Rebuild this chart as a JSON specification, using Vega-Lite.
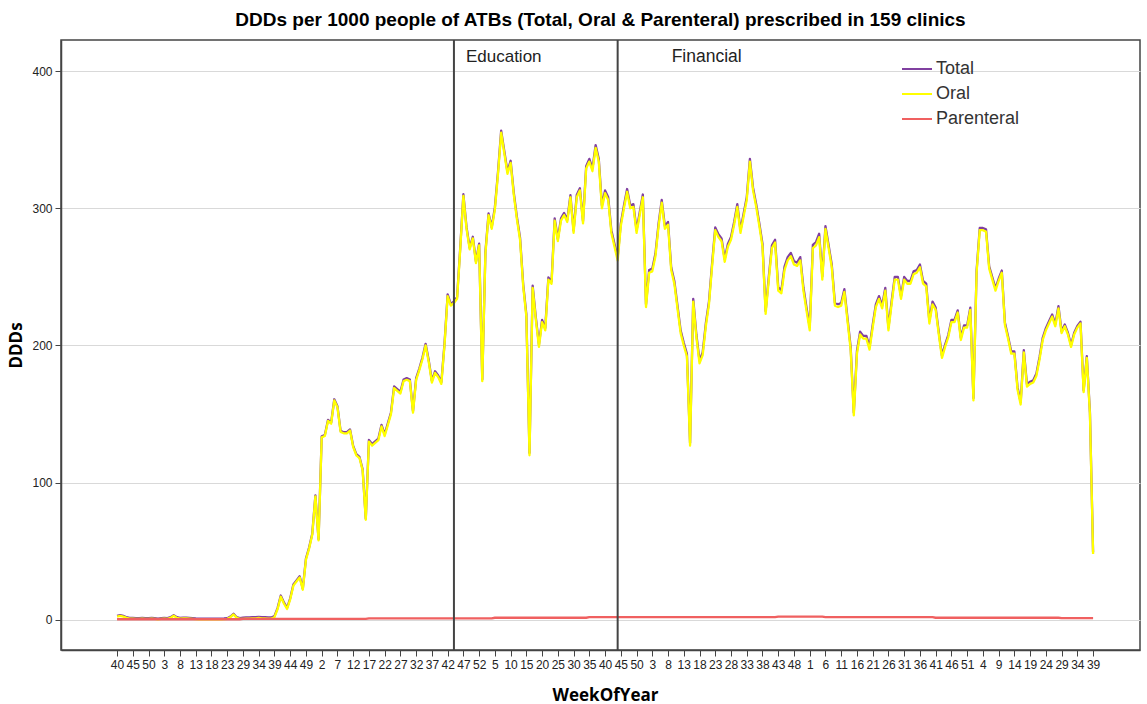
{
"$schema": "https://vega.github.io/schema/vega-lite/v6.json",
"width": 1079, "height": 610,
"autosize": {"type": "none"},
"padding": {"left": 61, "top": 40, "right": 7, "bottom": 54},
"background": "white",
"title": {"text": "DDDs per 1000 people of ATBs (Total, Oral & Parenteral) prescribed in 159 clinics", "font": "Liberation Sans", "fontSize": 19, "fontWeight": "bold", "color": "#000000", "anchor": "middle", "offset": 9},
"config": {
  "view": {"stroke": "#444444", "strokeWidth": 1.5},
  "axis": {"domainColor": "#444444", "domainWidth": 1.5, "tickColor": "#444444", "tickSize": 6, "labelFont": "Liberation Sans", "labelFontSize": 12, "labelColor": "#222222", "titleFont": "Open Sans", "titleFontSize": 17, "titleFontWeight": "bold", "titleColor": "#000000"}
},
"datasets": {"w": [
{"t":0,"Total":3,"Oral":2.5,"Parenteral":0.5},
{"t":1,"Total":3.5,"Oral":3,"Parenteral":0.5},
{"t":2,"Total":3,"Oral":2.5,"Parenteral":0.5},
{"t":3,"Total":2,"Oral":1.5,"Parenteral":0.5},
{"t":4,"Total":1.5,"Oral":1,"Parenteral":0.5},
{"t":5,"Total":1.5,"Oral":1,"Parenteral":0.5},
{"t":6,"Total":1.3,"Oral":0.8,"Parenteral":0.5},
{"t":7,"Total":1.3,"Oral":0.8,"Parenteral":0.5},
{"t":8,"Total":1.5,"Oral":1,"Parenteral":0.5},
{"t":9,"Total":1.3,"Oral":0.8,"Parenteral":0.5},
{"t":10,"Total":1.3,"Oral":0.8,"Parenteral":0.5},
{"t":11,"Total":1.5,"Oral":1,"Parenteral":0.5},
{"t":12,"Total":1.3,"Oral":0.8,"Parenteral":0.5},
{"t":13,"Total":1,"Oral":0.5,"Parenteral":0.5},
{"t":14,"Total":1.3,"Oral":0.8,"Parenteral":0.5},
{"t":15,"Total":1.5,"Oral":1,"Parenteral":0.5},
{"t":16,"Total":1.3,"Oral":0.8,"Parenteral":0.5},
{"t":17,"Total":2,"Oral":1.5,"Parenteral":0.5},
{"t":18,"Total":3.5,"Oral":3,"Parenteral":0.5},
{"t":19,"Total":2,"Oral":1.5,"Parenteral":0.5},
{"t":20,"Total":1.5,"Oral":1,"Parenteral":0.5},
{"t":21,"Total":1.7,"Oral":1.2,"Parenteral":0.5},
{"t":22,"Total":1.7,"Oral":1.2,"Parenteral":0.5},
{"t":23,"Total":1.5,"Oral":1,"Parenteral":0.5},
{"t":24,"Total":1.3,"Oral":0.8,"Parenteral":0.5},
{"t":25,"Total":1.1,"Oral":0.6,"Parenteral":0.5},
{"t":26,"Total":1,"Oral":0.5,"Parenteral":0.5},
{"t":27,"Total":1,"Oral":0.5,"Parenteral":0.5},
{"t":28,"Total":1,"Oral":0.5,"Parenteral":0.5},
{"t":29,"Total":1,"Oral":0.5,"Parenteral":0.5},
{"t":30,"Total":1,"Oral":0.5,"Parenteral":0.5},
{"t":31,"Total":1,"Oral":0.5,"Parenteral":0.5},
{"t":32,"Total":1,"Oral":0.5,"Parenteral":0.5},
{"t":33,"Total":1,"Oral":0.5,"Parenteral":0.5},
{"t":34,"Total":1.1,"Oral":0.6,"Parenteral":0.5},
{"t":35,"Total":1.3,"Oral":0.8,"Parenteral":0.5},
{"t":36,"Total":2.5,"Oral":2,"Parenteral":0.5},
{"t":37,"Total":4.5,"Oral":4,"Parenteral":0.5},
{"t":38,"Total":2,"Oral":1.5,"Parenteral":0.5},
{"t":39,"Total":1.3,"Oral":0.8,"Parenteral":0.5},
{"t":40,"Total":1.6,"Oral":0.8,"Parenteral":0.8},
{"t":41,"Total":1.8,"Oral":1,"Parenteral":0.8},
{"t":42,"Total":1.8,"Oral":1,"Parenteral":0.8},
{"t":43,"Total":2,"Oral":1.2,"Parenteral":0.8},
{"t":44,"Total":2,"Oral":1.2,"Parenteral":0.8},
{"t":45,"Total":2.3,"Oral":1.5,"Parenteral":0.8},
{"t":46,"Total":2,"Oral":1.2,"Parenteral":0.8},
{"t":47,"Total":2,"Oral":1.2,"Parenteral":0.8},
{"t":48,"Total":1.8,"Oral":1,"Parenteral":0.8},
{"t":49,"Total":1.8,"Oral":1,"Parenteral":0.8},
{"t":50,"Total":2.8,"Oral":2,"Parenteral":0.8},
{"t":51,"Total":8.8,"Oral":8,"Parenteral":0.8},
{"t":52,"Total":17.8,"Oral":17,"Parenteral":0.8},
{"t":53,"Total":12.8,"Oral":12,"Parenteral":0.8},
{"t":54,"Total":8.8,"Oral":8,"Parenteral":0.8},
{"t":55,"Total":15.8,"Oral":15,"Parenteral":0.8},
{"t":56,"Total":25.8,"Oral":25,"Parenteral":0.8},
{"t":57,"Total":28.8,"Oral":28,"Parenteral":0.8},
{"t":58,"Total":31.8,"Oral":31,"Parenteral":0.8},
{"t":59,"Total":22.8,"Oral":22,"Parenteral":0.8},
{"t":60,"Total":44.8,"Oral":44,"Parenteral":0.8},
{"t":61,"Total":52.8,"Oral":52,"Parenteral":0.8},
{"t":62,"Total":62.8,"Oral":62,"Parenteral":0.8},
{"t":63,"Total":90.8,"Oral":90,"Parenteral":0.8},
{"t":64,"Total":58.8,"Oral":58,"Parenteral":0.8},
{"t":65,"Total":133.8,"Oral":133,"Parenteral":0.8},
{"t":66,"Total":134.8,"Oral":134,"Parenteral":0.8},
{"t":67,"Total":145.8,"Oral":145,"Parenteral":0.8},
{"t":68,"Total":143.8,"Oral":143,"Parenteral":0.8},
{"t":69,"Total":160.8,"Oral":160,"Parenteral":0.8},
{"t":70,"Total":155.8,"Oral":155,"Parenteral":0.8},
{"t":71,"Total":137.8,"Oral":137,"Parenteral":0.8},
{"t":72,"Total":136.8,"Oral":136,"Parenteral":0.8},
{"t":73,"Total":136.8,"Oral":136,"Parenteral":0.8},
{"t":74,"Total":138.8,"Oral":138,"Parenteral":0.8},
{"t":75,"Total":126.8,"Oral":126,"Parenteral":0.8},
{"t":76,"Total":120.8,"Oral":120,"Parenteral":0.8},
{"t":77,"Total":118.8,"Oral":118,"Parenteral":0.8},
{"t":78,"Total":109.8,"Oral":109,"Parenteral":0.8},
{"t":79,"Total":73.8,"Oral":73,"Parenteral":0.8},
{"t":80,"Total":131.2,"Oral":130,"Parenteral":1.2},
{"t":81,"Total":128.2,"Oral":127,"Parenteral":1.2},
{"t":82,"Total":130.2,"Oral":129,"Parenteral":1.2},
{"t":83,"Total":132.2,"Oral":131,"Parenteral":1.2},
{"t":84,"Total":142.2,"Oral":141,"Parenteral":1.2},
{"t":85,"Total":135.2,"Oral":134,"Parenteral":1.2},
{"t":86,"Total":143.2,"Oral":142,"Parenteral":1.2},
{"t":87,"Total":151.2,"Oral":150,"Parenteral":1.2},
{"t":88,"Total":170.2,"Oral":169,"Parenteral":1.2},
{"t":89,"Total":168.2,"Oral":167,"Parenteral":1.2},
{"t":90,"Total":166.2,"Oral":165,"Parenteral":1.2},
{"t":91,"Total":175.2,"Oral":174,"Parenteral":1.2},
{"t":92,"Total":176.2,"Oral":175,"Parenteral":1.2},
{"t":93,"Total":175.2,"Oral":174,"Parenteral":1.2},
{"t":94,"Total":152.2,"Oral":151,"Parenteral":1.2},
{"t":95,"Total":176.2,"Oral":175,"Parenteral":1.2},
{"t":96,"Total":183.2,"Oral":182,"Parenteral":1.2},
{"t":97,"Total":191.2,"Oral":190,"Parenteral":1.2},
{"t":98,"Total":201.2,"Oral":200,"Parenteral":1.2},
{"t":99,"Total":189.2,"Oral":188,"Parenteral":1.2},
{"t":100,"Total":174.2,"Oral":173,"Parenteral":1.2},
{"t":101,"Total":181.2,"Oral":180,"Parenteral":1.2},
{"t":102,"Total":178.2,"Oral":177,"Parenteral":1.2},
{"t":103,"Total":173.2,"Oral":172,"Parenteral":1.2},
{"t":104,"Total":201.2,"Oral":200,"Parenteral":1.2},
{"t":105,"Total":237.2,"Oral":236,"Parenteral":1.2},
{"t":106,"Total":230.2,"Oral":229,"Parenteral":1.2},
{"t":107,"Total":232.2,"Oral":231,"Parenteral":1.2},
{"t":108,"Total":235.2,"Oral":234,"Parenteral":1.2},
{"t":109,"Total":271.2,"Oral":270,"Parenteral":1.2},
{"t":110,"Total":310.2,"Oral":309,"Parenteral":1.2},
{"t":111,"Total":286.2,"Oral":285,"Parenteral":1.2},
{"t":112,"Total":271.2,"Oral":270,"Parenteral":1.2},
{"t":113,"Total":279.2,"Oral":278,"Parenteral":1.2},
{"t":114,"Total":261.2,"Oral":260,"Parenteral":1.2},
{"t":115,"Total":274.2,"Oral":273,"Parenteral":1.2},
{"t":116,"Total":175.2,"Oral":174,"Parenteral":1.2},
{"t":117,"Total":268.2,"Oral":267,"Parenteral":1.2},
{"t":118,"Total":296.2,"Oral":295,"Parenteral":1.2},
{"t":119,"Total":286.2,"Oral":285,"Parenteral":1.2},
{"t":120,"Total":300.6,"Oral":299,"Parenteral":1.6},
{"t":121,"Total":326.6,"Oral":325,"Parenteral":1.6},
{"t":122,"Total":356.6,"Oral":355,"Parenteral":1.6},
{"t":123,"Total":341.6,"Oral":340,"Parenteral":1.6},
{"t":124,"Total":326.6,"Oral":325,"Parenteral":1.6},
{"t":125,"Total":334.6,"Oral":333,"Parenteral":1.6},
{"t":126,"Total":311.6,"Oral":310,"Parenteral":1.6},
{"t":127,"Total":293.6,"Oral":292,"Parenteral":1.6},
{"t":128,"Total":278.6,"Oral":277,"Parenteral":1.6},
{"t":129,"Total":244.6,"Oral":243,"Parenteral":1.6},
{"t":130,"Total":222.6,"Oral":221,"Parenteral":1.6},
{"t":131,"Total":121.6,"Oral":120,"Parenteral":1.6},
{"t":132,"Total":243.6,"Oral":242,"Parenteral":1.6},
{"t":133,"Total":220.6,"Oral":219,"Parenteral":1.6},
{"t":134,"Total":200.6,"Oral":199,"Parenteral":1.6},
{"t":135,"Total":218.6,"Oral":217,"Parenteral":1.6},
{"t":136,"Total":212.6,"Oral":211,"Parenteral":1.6},
{"t":137,"Total":249.6,"Oral":248,"Parenteral":1.6},
{"t":138,"Total":246.6,"Oral":245,"Parenteral":1.6},
{"t":139,"Total":292.6,"Oral":291,"Parenteral":1.6},
{"t":140,"Total":277.6,"Oral":276,"Parenteral":1.6},
{"t":141,"Total":292.6,"Oral":291,"Parenteral":1.6},
{"t":142,"Total":296.6,"Oral":295,"Parenteral":1.6},
{"t":143,"Total":291.6,"Oral":290,"Parenteral":1.6},
{"t":144,"Total":309.6,"Oral":308,"Parenteral":1.6},
{"t":145,"Total":283.6,"Oral":282,"Parenteral":1.6},
{"t":146,"Total":309.6,"Oral":308,"Parenteral":1.6},
{"t":147,"Total":314.6,"Oral":313,"Parenteral":1.6},
{"t":148,"Total":290.6,"Oral":289,"Parenteral":1.6},
{"t":149,"Total":330.6,"Oral":329,"Parenteral":1.6},
{"t":150,"Total":336,"Oral":334,"Parenteral":2},
{"t":151,"Total":329,"Oral":327,"Parenteral":2},
{"t":152,"Total":346,"Oral":344,"Parenteral":2},
{"t":153,"Total":336,"Oral":334,"Parenteral":2},
{"t":154,"Total":302,"Oral":300,"Parenteral":2},
{"t":155,"Total":313,"Oral":311,"Parenteral":2},
{"t":156,"Total":308,"Oral":306,"Parenteral":2},
{"t":157,"Total":284,"Oral":282,"Parenteral":2},
{"t":158,"Total":274,"Oral":272,"Parenteral":2},
{"t":159,"Total":264,"Oral":262,"Parenteral":2},
{"t":160,"Total":289,"Oral":287,"Parenteral":2},
{"t":161,"Total":302,"Oral":300,"Parenteral":2},
{"t":162,"Total":314,"Oral":312,"Parenteral":2},
{"t":163,"Total":302,"Oral":300,"Parenteral":2},
{"t":164,"Total":303,"Oral":301,"Parenteral":2},
{"t":165,"Total":284,"Oral":282,"Parenteral":2},
{"t":166,"Total":297,"Oral":295,"Parenteral":2},
{"t":167,"Total":310,"Oral":308,"Parenteral":2},
{"t":168,"Total":230,"Oral":228,"Parenteral":2},
{"t":169,"Total":255,"Oral":253,"Parenteral":2},
{"t":170,"Total":256,"Oral":254,"Parenteral":2},
{"t":171,"Total":267,"Oral":265,"Parenteral":2},
{"t":172,"Total":289,"Oral":287,"Parenteral":2},
{"t":173,"Total":306,"Oral":304,"Parenteral":2},
{"t":174,"Total":287,"Oral":285,"Parenteral":2},
{"t":175,"Total":290,"Oral":288,"Parenteral":2},
{"t":176,"Total":257,"Oral":255,"Parenteral":2},
{"t":177,"Total":247,"Oral":245,"Parenteral":2},
{"t":178,"Total":229,"Oral":227,"Parenteral":2},
{"t":179,"Total":211,"Oral":209,"Parenteral":2},
{"t":180,"Total":202,"Oral":200,"Parenteral":2},
{"t":181,"Total":194,"Oral":192,"Parenteral":2},
{"t":182,"Total":129,"Oral":127,"Parenteral":2},
{"t":183,"Total":234,"Oral":232,"Parenteral":2},
{"t":184,"Total":208,"Oral":206,"Parenteral":2},
{"t":185,"Total":189,"Oral":187,"Parenteral":2},
{"t":186,"Total":195,"Oral":193,"Parenteral":2},
{"t":187,"Total":216,"Oral":214,"Parenteral":2},
{"t":188,"Total":232,"Oral":230,"Parenteral":2},
{"t":189,"Total":260,"Oral":258,"Parenteral":2},
{"t":190,"Total":286,"Oral":284,"Parenteral":2},
{"t":191,"Total":281,"Oral":279,"Parenteral":2},
{"t":192,"Total":278,"Oral":276,"Parenteral":2},
{"t":193,"Total":263,"Oral":261,"Parenteral":2},
{"t":194,"Total":274,"Oral":272,"Parenteral":2},
{"t":195,"Total":279,"Oral":277,"Parenteral":2},
{"t":196,"Total":290,"Oral":288,"Parenteral":2},
{"t":197,"Total":303,"Oral":301,"Parenteral":2},
{"t":198,"Total":284,"Oral":282,"Parenteral":2},
{"t":199,"Total":296,"Oral":294,"Parenteral":2},
{"t":200,"Total":308,"Oral":306,"Parenteral":2},
{"t":201,"Total":336,"Oral":334,"Parenteral":2},
{"t":202,"Total":315,"Oral":313,"Parenteral":2},
{"t":203,"Total":303,"Oral":301,"Parenteral":2},
{"t":204,"Total":289,"Oral":287,"Parenteral":2},
{"t":205,"Total":274,"Oral":272,"Parenteral":2},
{"t":206,"Total":225,"Oral":223,"Parenteral":2},
{"t":207,"Total":250,"Oral":248,"Parenteral":2},
{"t":208,"Total":273,"Oral":271,"Parenteral":2},
{"t":209,"Total":277,"Oral":275,"Parenteral":2},
{"t":210,"Total":242.4,"Oral":240,"Parenteral":2.4},
{"t":211,"Total":240.4,"Oral":238,"Parenteral":2.4},
{"t":212,"Total":257.4,"Oral":255,"Parenteral":2.4},
{"t":213,"Total":264.4,"Oral":262,"Parenteral":2.4},
{"t":214,"Total":267.4,"Oral":265,"Parenteral":2.4},
{"t":215,"Total":261.4,"Oral":259,"Parenteral":2.4},
{"t":216,"Total":260.4,"Oral":258,"Parenteral":2.4},
{"t":217,"Total":264.4,"Oral":262,"Parenteral":2.4},
{"t":218,"Total":242.4,"Oral":240,"Parenteral":2.4},
{"t":219,"Total":227.4,"Oral":225,"Parenteral":2.4},
{"t":220,"Total":213.4,"Oral":211,"Parenteral":2.4},
{"t":221,"Total":273.4,"Oral":271,"Parenteral":2.4},
{"t":222,"Total":275.4,"Oral":273,"Parenteral":2.4},
{"t":223,"Total":281.4,"Oral":279,"Parenteral":2.4},
{"t":224,"Total":250.4,"Oral":248,"Parenteral":2.4},
{"t":225,"Total":287,"Oral":285,"Parenteral":2},
{"t":226,"Total":273,"Oral":271,"Parenteral":2},
{"t":227,"Total":259,"Oral":257,"Parenteral":2},
{"t":228,"Total":231,"Oral":229,"Parenteral":2},
{"t":229,"Total":230,"Oral":228,"Parenteral":2},
{"t":230,"Total":231,"Oral":229,"Parenteral":2},
{"t":231,"Total":241,"Oral":239,"Parenteral":2},
{"t":232,"Total":220,"Oral":218,"Parenteral":2},
{"t":233,"Total":199,"Oral":197,"Parenteral":2},
{"t":234,"Total":151,"Oral":149,"Parenteral":2},
{"t":235,"Total":196,"Oral":194,"Parenteral":2},
{"t":236,"Total":210,"Oral":208,"Parenteral":2},
{"t":237,"Total":207,"Oral":205,"Parenteral":2},
{"t":238,"Total":207,"Oral":205,"Parenteral":2},
{"t":239,"Total":199,"Oral":197,"Parenteral":2},
{"t":240,"Total":215,"Oral":213,"Parenteral":2},
{"t":241,"Total":230,"Oral":228,"Parenteral":2},
{"t":242,"Total":236,"Oral":234,"Parenteral":2},
{"t":243,"Total":229,"Oral":227,"Parenteral":2},
{"t":244,"Total":242,"Oral":240,"Parenteral":2},
{"t":245,"Total":213,"Oral":211,"Parenteral":2},
{"t":246,"Total":232,"Oral":230,"Parenteral":2},
{"t":247,"Total":250,"Oral":248,"Parenteral":2},
{"t":248,"Total":250,"Oral":248,"Parenteral":2},
{"t":249,"Total":236,"Oral":234,"Parenteral":2},
{"t":250,"Total":250,"Oral":248,"Parenteral":2},
{"t":251,"Total":247,"Oral":245,"Parenteral":2},
{"t":252,"Total":247,"Oral":245,"Parenteral":2},
{"t":253,"Total":254,"Oral":252,"Parenteral":2},
{"t":254,"Total":255,"Oral":253,"Parenteral":2},
{"t":255,"Total":259,"Oral":257,"Parenteral":2},
{"t":256,"Total":247,"Oral":245,"Parenteral":2},
{"t":257,"Total":245,"Oral":243,"Parenteral":2},
{"t":258,"Total":218,"Oral":216,"Parenteral":2},
{"t":259,"Total":232,"Oral":230,"Parenteral":2},
{"t":260,"Total":227.6,"Oral":226,"Parenteral":1.6},
{"t":261,"Total":209.6,"Oral":208,"Parenteral":1.6},
{"t":262,"Total":192.6,"Oral":191,"Parenteral":1.6},
{"t":263,"Total":200.6,"Oral":199,"Parenteral":1.6},
{"t":264,"Total":207.6,"Oral":206,"Parenteral":1.6},
{"t":265,"Total":218.6,"Oral":217,"Parenteral":1.6},
{"t":266,"Total":218.6,"Oral":217,"Parenteral":1.6},
{"t":267,"Total":225.6,"Oral":224,"Parenteral":1.6},
{"t":268,"Total":205.6,"Oral":204,"Parenteral":1.6},
{"t":269,"Total":214.6,"Oral":213,"Parenteral":1.6},
{"t":270,"Total":214.6,"Oral":213,"Parenteral":1.6},
{"t":271,"Total":227.6,"Oral":226,"Parenteral":1.6},
{"t":272,"Total":161.6,"Oral":160,"Parenteral":1.6},
{"t":273,"Total":254.6,"Oral":253,"Parenteral":1.6},
{"t":274,"Total":285.6,"Oral":284,"Parenteral":1.6},
{"t":275,"Total":285.6,"Oral":284,"Parenteral":1.6},
{"t":276,"Total":284.6,"Oral":283,"Parenteral":1.6},
{"t":277,"Total":257.6,"Oral":256,"Parenteral":1.6},
{"t":278,"Total":249.6,"Oral":248,"Parenteral":1.6},
{"t":279,"Total":241.6,"Oral":240,"Parenteral":1.6},
{"t":280,"Total":248.6,"Oral":247,"Parenteral":1.6},
{"t":281,"Total":254.6,"Oral":253,"Parenteral":1.6},
{"t":282,"Total":216.6,"Oral":215,"Parenteral":1.6},
{"t":283,"Total":206.6,"Oral":205,"Parenteral":1.6},
{"t":284,"Total":195.6,"Oral":194,"Parenteral":1.6},
{"t":285,"Total":195.6,"Oral":194,"Parenteral":1.6},
{"t":286,"Total":169.6,"Oral":168,"Parenteral":1.6},
{"t":287,"Total":158.6,"Oral":157,"Parenteral":1.6},
{"t":288,"Total":196.6,"Oral":195,"Parenteral":1.6},
{"t":289,"Total":171.6,"Oral":170,"Parenteral":1.6},
{"t":290,"Total":173.6,"Oral":172,"Parenteral":1.6},
{"t":291,"Total":174.6,"Oral":173,"Parenteral":1.6},
{"t":292,"Total":179.6,"Oral":178,"Parenteral":1.6},
{"t":293,"Total":191.6,"Oral":190,"Parenteral":1.6},
{"t":294,"Total":205.6,"Oral":204,"Parenteral":1.6},
{"t":295,"Total":212.6,"Oral":211,"Parenteral":1.6},
{"t":296,"Total":217.6,"Oral":216,"Parenteral":1.6},
{"t":297,"Total":222.6,"Oral":221,"Parenteral":1.6},
{"t":298,"Total":215.6,"Oral":214,"Parenteral":1.6},
{"t":299,"Total":228.6,"Oral":227,"Parenteral":1.6},
{"t":300,"Total":210.3,"Oral":209,"Parenteral":1.3},
{"t":301,"Total":215.3,"Oral":214,"Parenteral":1.3},
{"t":302,"Total":209.3,"Oral":208,"Parenteral":1.3},
{"t":303,"Total":200.3,"Oral":199,"Parenteral":1.3},
{"t":304,"Total":209.3,"Oral":208,"Parenteral":1.3},
{"t":305,"Total":214.3,"Oral":213,"Parenteral":1.3},
{"t":306,"Total":217.3,"Oral":216,"Parenteral":1.3},
{"t":307,"Total":167.3,"Oral":166,"Parenteral":1.3},
{"t":308,"Total":192.3,"Oral":191,"Parenteral":1.3},
{"t":309,"Total":151.3,"Oral":150,"Parenteral":1.3},
{"t":310,"Total":49.3,"Oral":48,"Parenteral":1.3}
]},
"encoding": {
  "x": {"field": "t", "type": "quantitative",
    "scale": {"domain": [-17.8, 324.9], "nice": false, "zero": false},
    "axis": {"title": "WeekOfYear", "grid": false, "labelOverlap": false, "labelFlush": false, "labelBound": false, "labelPadding": 3, "titlePadding": 17, "titleX": 544, "titleAlign": "center",
      "values": [0,5,10,15,20,25,30,35,40,45,50,55,60,65,70,75,80,85,90,95,100,105,110,115,120,125,130,135,140,145,150,155,160,165,170,175,180,185,190,195,200,205,210,215,220,225,230,235,240,245,250,255,260,265,270,275,280,285,290,295,300,305,310],
      "labelExpr": "['40','45','50','3','8','13','18','23','29','34','39','44','49','2','7','12','17','22','27','32','37','42','47','52','5','10','15','20','25','30','35','40','45','50','3','8','13','18','23','28','33','38','43','48','1','6','11','16','21','26','31','36','41','46','51','4','9','14','19','24','29','34','39'][round(datum.value/5)]"}}
},
"layer": [
  {
    "data": {"name": "w"},
    "transform": [{"fold": ["Total", "Oral", "Parenteral"], "as": ["series", "value"]}],
    "mark": {"type": "line", "strokeWidth": 2.3, "strokeJoin": "round"},
    "encoding": {
      "y": {"field": "value", "type": "quantitative",
        "scale": {"domain": [-21.9, 422.6], "nice": false, "zero": false},
        "axis": {"title": "DDDs", "values": [0, 100, 200, 300, 400], "grid": true, "gridColor": "#d9d9d9", "gridWidth": 1, "labelPadding": 3, "titlePadding": 6}},
      "color": {"field": "series", "type": "nominal",
        "scale": {"domain": ["Total", "Oral", "Parenteral"], "range": ["#8040a0", "#ffff00", "#f06060"]},
        "legend": {"title": null, "orient": "none", "legendX": 840, "legendY": 13, "symbolType": "stroke", "symbolSize": 900, "symbolStrokeWidth": 2, "labelFont": "Liberation Sans", "labelFontSize": 18, "labelColor": "#333333", "labelOffset": 3, "rowPadding": -2}}
    }
  },
  {
    "data": {"values": [{"t": 107}, {"t": 159}]},
    "mark": {"type": "rule", "color": "#444444", "strokeWidth": 2},
    "encoding": {}
  },
  {
    "data": {"values": [{"t": 107, "label": "Education"}]},
    "mark": {"type": "text", "align": "left", "baseline": "middle", "dx": 12, "font": "Liberation Sans", "fontSize": 17, "color": "#222222"},
    "encoding": {"y": {"datum": 410}, "text": {"field": "label"}}
  },
  {
    "data": {"values": [{"t": 159, "label": "Financial"}]},
    "mark": {"type": "text", "align": "left", "baseline": "middle", "dx": 54, "font": "Liberation Sans", "fontSize": 17.5, "color": "#222222"},
    "encoding": {"y": {"datum": 410}, "text": {"field": "label"}}
  }
]
}
